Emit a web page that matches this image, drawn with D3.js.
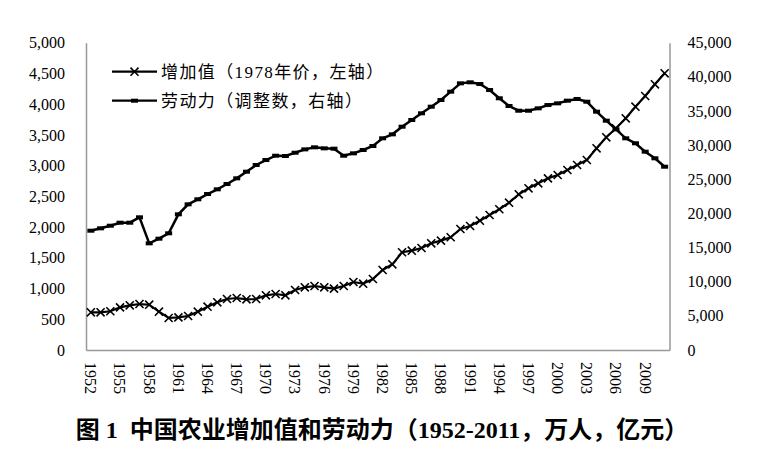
<html lang="zh">
<head>
  <meta charset="UTF-8"/>
  <title>中国农业增加值和劳动力</title>
  <script src="https://d3js.org/d3.v7.min.js"></script>
  <style>
    body { margin: 0; background: #fff; }
    text { font-family: "Liberation Serif", "Noto Sans CJK SC", serif; fill: #000; }
  </style>
</head>
<body>
<svg width="762" height="456"></svg>
<script>
  // years 1952-2011
  const years = d3.range(1952, 2012);

  // 增加值（1978年价，亿元）
  const valueAdded = [
    613, 613, 630, 694, 727, 748, 737, 623, 521, 531,
    553, 623, 705, 776, 830, 846, 825, 830, 890, 911,
    890, 976, 1020, 1041, 1020, 998, 1041, 1106, 1079, 1155,
    1302, 1394, 1590, 1616, 1660, 1736, 1779, 1834, 1969, 2018,
    2104, 2197, 2290, 2397, 2533, 2631, 2712, 2793, 2847, 2929,
    3010, 3092, 3282, 3461, 3607, 3770, 3959, 4133, 4323, 4502
  ];

  // 劳动力（调整数，万人）
  const labor = [
    17470, 17820, 18200, 18640, 18640, 19430, 15620, 16300, 17090, 19870,
    21330, 22070, 22840, 23530, 24310, 25140, 26110, 27090, 27820, 28450,
    28410, 28890, 29380, 29680, 29530, 29480, 28450, 28800, 29290, 29870,
    31000, 31580, 32700, 33680, 34660, 35630, 36610, 37830, 39050, 39200,
    38950, 38070, 36860, 35730, 35040, 35040, 35390, 35870, 36120, 36510,
    36760, 36360, 34900, 33580, 32310, 31000, 30270, 29040, 28070, 26840
  ];

  const leftTicks = d3.range(0, 5001, 500);
  const rightTicks = d3.range(0, 45001, 5000);
  const xTickYears = years.filter(y => (y - 1952) % 3 === 0);

  const legendNames = ['增加值（1978年价，左轴）', '劳动力（调整数，右轴）'];

  const svg = d3.select('svg');
  const plotL = 86, plotR = 669.5, plotT = 42.7, plotB = 350;

  const x = d3.scaleBand()
    .domain(years)
    .range([plotL, plotR]);

  const yL = d3.scaleLinear().domain([0, 5000]).range([plotB, plotT]);
  const yR = d3.scaleLinear().domain([0, 45000]).range([plotB, plotT]);

  const fmt = d3.format(',');
  const cx = (d) => x(d) + x.bandwidth() / 2;
  const serif = '"Liberation Serif", "Times New Roman", serif';

  // left axis
  const gl = svg.append('g')
    .attr('transform', `translate(${plotL},0)`)
    .call(d3.axisLeft(yL).tickValues(leftTicks).tickSize(0).tickPadding(21).tickFormat(fmt));
  gl.select('.domain').attr('stroke', '#999').attr('stroke-width', 1.5);
  gl.selectAll('text').style('font-size', '16px').style('font-family', serif);

  // right axis
  const gr = svg.append('g')
    .attr('transform', `translate(${plotR},0)`)
    .call(d3.axisRight(yR).tickValues(rightTicks).tickSize(0).tickPadding(18).tickFormat(fmt));
  gr.select('.domain').attr('stroke', '#999').attr('stroke-width', 1.5);
  gr.selectAll('text').style('font-size', '16px').style('font-family', serif);

  // bottom axis
  const gb = svg.append('g')
    .attr('transform', `translate(0,${plotB})`)
    .call(d3.axisBottom(x).tickValues(xTickYears).tickSize(0).tickFormat(d3.format('d')));
  gb.select('.domain').attr('stroke', '#999').attr('stroke-width', 1.5);
  gb.selectAll('text')
    .style('font-size', '16px')
    .style('font-family', serif)
    .attr('text-anchor', 'start')
    .attr('y', 0)
    .attr('dy', '0.35em')
    .attr('transform', 'translate(0,12) rotate(90)');

  // labor line (right axis)
  const lineR = d3.line().x((d, i) => cx(years[i])).y(d => yR(d));
  svg.append('path')
    .datum(labor)
    .attr('fill', 'none')
    .attr('stroke', '#000')
    .attr('stroke-width', 2.5)
    .attr('d', lineR);
  svg.append('g').selectAll('rect')
    .data(labor)
    .join('rect')
    .attr('x', (d, i) => cx(years[i]) - 3.5)
    .attr('y', d => yR(d) - 2)
    .attr('width', 7)
    .attr('height', 4)
    .attr('fill', '#000');

  // value added line (left axis)
  const lineL = d3.line().x((d, i) => cx(years[i])).y(d => yL(d));
  svg.append('path')
    .datum(valueAdded)
    .attr('fill', 'none')
    .attr('stroke', '#000')
    .attr('stroke-width', 2.2)
    .attr('d', lineL);
  const cross = d3.symbol().type(d3.symbolX).size(44);
  svg.append('g').selectAll('path')
    .data(valueAdded)
    .join('path')
    .attr('transform', (d, i) => `translate(${cx(years[i])},${yL(d)})`)
    .attr('d', cross)
    .attr('fill', 'none')
    .attr('stroke', '#000')
    .attr('stroke-width', 1.6);

  // legend
  const legend = svg.append('g');
  const ly = [71.7, 100.7];
  legend.selectAll('line')
    .data(legendNames)
    .join('line')
    .attr('x1', 112).attr('x2', 157)
    .attr('y1', (d, i) => ly[i]).attr('y2', (d, i) => ly[i])
    .attr('stroke', '#000').attr('stroke-width', 2.2);
  legend.append('path')
    .attr('transform', `translate(134.5,${ly[0]})`)
    .attr('d', cross)
    .attr('fill', 'none').attr('stroke', '#000').attr('stroke-width', 1.6);
  legend.append('rect')
    .attr('x', 131).attr('y', ly[1] - 2).attr('width', 7).attr('height', 4).attr('fill', '#000');
  legend.selectAll('text')
    .data(legendNames)
    .join('text')
    .attr('x', 161)
    .attr('y', (d, i) => ly[i])
    .attr('dy', '0.36em')
    .style('font-size', '17px')
    .style('letter-spacing', '1.4px')
    .text(d => d);

  // title
  svg.append('text')
    .attr('x', 382)
    .attr('y', 438)
    .attr('text-anchor', 'middle')
    .style('font-size', '24px')
    .style('font-weight', 'bold')
    .style('white-space', 'pre')
    .text('图 1  中国农业增加值和劳动力（1952-2011，万人，亿元）');
</script>
</body>
</html>
